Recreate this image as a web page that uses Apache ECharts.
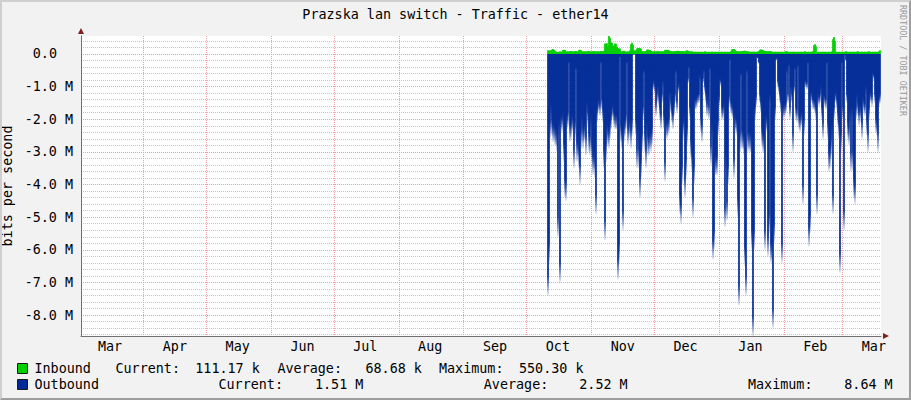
<!DOCTYPE html>
<html>
<head>
<meta charset="utf-8">
<script src="https://cdn.jsdelivr.net/npm/echarts@6.0.0/dist/echarts.min.js"></script>
<style>
  html, body { margin: 0; padding: 0; background: #F2F2F2; }
  #wrap { position: relative; width: 911px; height: 400px; }
  #chart { position: absolute; left: 0; top: 0; width: 911px; height: 400px; }
  #frame { position: absolute; left: 0; top: 0; width: 911px; height: 400px; box-sizing: border-box;
           border-top: 2px solid #CFCFCF; border-left: 2px solid #CFCFCF;
           border-right: 2px solid #9E9E9E; border-bottom: 2px solid #9E9E9E; pointer-events: none; }
</style>
</head>
<body>
<div id="wrap"><div id="chart"></div><div id="frame"></div></div>
<script>
// ---------------- data ----------------
const TITLE = 'Prazska lan switch - Traffic - ether14';
const Y_AXIS_NAME = 'bits per second';
const WATERMARK = 'RRDTOOL / TOBI OETIKER';

// time window of the graph (local time)
const X_MIN = +new Date(2013, 2, 2, 3, 20);
const X_MAX = +new Date(2014, 2, 19, 9, 35);
// first sample and sample spacing (one sample per pixel column, ~11.47 h)
const DATA_START = +new Date(2013, 9, 11, 6, 40);
const STEP_MS = 41284000;

// month boundaries (major vertical grid)
const MONTH_STARTS = ['2013-04-01','2013-05-01','2013-06-01','2013-07-01','2013-08-01','2013-09-01',
                      '2013-10-01','2013-11-01','2013-12-01','2014-01-01','2014-02-01','2014-03-01'];
// month labels (centred mid-month)
const X_LABEL_DATES = ['2013-03-16','2013-04-16','2013-05-16','2013-06-16','2013-07-16','2013-08-16',
                       '2013-09-16','2013-10-16','2013-11-16','2013-12-16','2014-01-16','2014-02-16','2014-03-16'];
const X_LABELS = ['Mar','Apr','May','Jun','Jul','Aug','Sep','Oct','Nov','Dec','Jan','Feb','Mar'];

// y axis (values in Mbit/s)
const Y_MIN_M = -8.64;
const Y_MAX_M = 0.5503;
const Y_MAJOR_M = [0, -1, -2, -3, -4, -5, -6, -7, -8];
const Y_MINOR_STEP_M = 0.2;

// Inbound (Mbit/s, drawn upward)
const INBOUND_M = [
  0.11,0.10,0.11,0.10,
  0.14,0.15,0.13,0.09,
  0.07,0.07,0.06,0.07,0.08,0.07,0.07,
  0.12,0.13,0.12,0.08,0.07,
  0.08,0.07,0.08,0.09,0.08,0.07,0.08,0.08,0.09,0.08,0.07,
  0.12,0.13,0.11,0.08,
  0.08,0.07,0.08,0.08,0.07,0.09,0.08,0.08,0.07,0.08,0.08,0.09,0.08,0.07,0.08,0.08,0.07,0.08,0.09,0.08,0.08,0.10,
  0.32,0.31,0.33,0.24,
  0.5503,0.50,
  0.36,0.34,
  0.26,0.25,
  0.32,0.31,
  0.22,
  0.18,0.16,0.17,
  0.08,0.07,0.09,0.10,0.08,0.07,0.07,0.08,0.07,
  // Nov
  0.11,
  0.30,0.34,0.28,
  0.11,0.10,0.11,
  0.17,0.18,0.17,0.18,0.15,
  0.08,0.08,0.07,0.08,0.09,
  0.13,0.14,0.13,0.12,
  0.09,0.08,0.07,0.08,
  0.08,0.07,0.08,0.09,0.08,0.07,0.08,0.07,0.08,0.08,
  0.12,0.13,0.12,0.13,0.11,0.09,0.08,
  0.08,0.07,0.08,0.08,0.09,0.08,0.10,0.09,0.08,0.08,
  0.08,0.09,0.08,0.07,0.10,0.11,0.10,0.08,0.08,0.07,0.08,
  0.07,0.06,0.07,0.07,0.06,0.07,0.07,0.06,0.07,0.07,0.06,0.07,0.08,0.07,0.06,0.07,0.07,0.06,0.07,0.07,
  // late Dec / Jan
  0.07,0.06,0.07,0.07,0.06,0.07,0.07,0.06,0.07,0.07,0.06,0.07,0.07,0.06,0.07,0.07,0.06,0.07,0.08,
  0.14,0.15,0.15,0.12,
  0.08,0.09,0.08,0.08,0.07,0.08,0.09,0.08,0.10,
  0.10,0.09,0.08,0.08,0.07,0.07,0.06,0.07,0.07,
  0.07,0.07,0.06,0.07,0.08,0.08,
  0.13,0.14,0.13,0.12,0.10,
  0.08,0.09,0.08,0.08,0.09,0.08,0.08,0.07,
  0.07,0.06,0.07,0.07,0.06,0.07,0.07,0.06,0.07,0.07,0.06,0.07,0.07,0.08,0.08,0.07,0.06,0.07,0.07,0.06,0.07,0.07,0.06,
  // Feb / Mar
  0.07,0.06,0.07,0.07,0.06,0.07,0.07,0.06,0.07,0.08,0.07,0.06,0.07,0.07,0.06,0.07,0.07,0.08,
  0.27,0.30,0.24,
  0.07,0.06,0.07,0.07,0.06,0.07,0.07,0.06,0.07,0.07,0.06,0.07,0.07,0.06,0.07,0.08,
  0.45,0.52,0.40,
  0.07,0.07,0.06,0.07,0.07,
  0.06,0.07,0.07,0.06,0.07,
  0.08,0.07,0.07,0.06,0.07,
  0.07,0.06,0.07,0.07,0.06,
  0.07,0.07,0.08,0.07,0.06,
  0.07,0.07,0.06,0.07,0.07,
  0.06,0.07,0.07,0.08,0.07,
  0.06,0.07,0.07,0.06,0.07,
  0.07,0.06,0.07,0.08,0.11
];

// Outbound (Mbit/s, drawn downward)
const OUTBOUND_M = [
  7.4,6.4,2.6,1.9,2.5,2.7,2.6,2.8,2.8,3.0,
  5.6,2.5,7.0,2.3,2.4,2.2,3.3,4.4,4.5,2.3,
  2.2,0.3,2.7,2.6,2.3,2.4,3.5,2.6,0.5,3.3,
  3.1,3.5,4.0,2.9,2.3,2.9,2.7,2.6,3.1,1.8,
  2.2,3.0,3.1,2.3,3.3,3.7,3.5,3.8,4.9,2.1,
  1.8,1.7,1.9,0.3,1.7,2.1,3.5,5.7,3.3,2.6,
  2.8,2.9,2.6,2.3,2.0,1.9,2.2,2.3,2.3,2.3,
  6.9,6.4,0.1,2.7,2.9,5.4,2.7,2.5,2.3,0.3,
  2.8,2.6,
  // Nov
  2.4,2.9,2.5,0.02,0.02,0.02,2.5,3.5,2.8,3.5,
  4.4,3.8,3.0,2.0,0.6,3.0,3.5,2.6,3.1,3.1,
  2.9,3.0,2.8,1.1,0.95,1.2,1.9,1.5,1.2,1.6,
  2.0,2.3,1.5,1.0,2.3,3.9,2.5,2.6,2.5,2.4,
  1.4,1.8,2.1,2.3,1.9,1.5,0.6,1.8,1.2,1.1,
  4.9,5.2,4.0,2.6,2.3,4.4,3.8,2.8,0.9,0.45,
  2.0,3.2,3.6,5.0,4.0,1.7,1.7,1.6,1.5,1.5,
  0.8,2.4,2.7,0.9,0.6,1.2,1.5,1.9,1.6,2.0,
  0.5,3.4,2.6,
  // late Dec / Jan
  6.3,6.0,3.7,3.7,3.7,2.5,1.6,0.9,1.0,2.0,
  2.0,1.8,5.3,3.6,5.1,4.0,1.6,0.2,1.8,1.9,
  2.0,3.8,2.3,2.4,2.5,5.0,7.7,3.0,0.7,2.9,
  2.9,3.1,6.5,7.4,0.6,3.0,2.9,3.0,3.0,6.0,
  8.64,6.0,2.0,1.6,0.1,0.15,0.3,1.5,1.8,2.8,
  3.0,3.0,6.0,2.3,2.4,6.2,5.5,1.5,6.4,6.3,
  8.4,5.8,2.0,0.2,0.15,1.0,1.2,1.5,1.8,6.4,
  2.0,1.9,1.9,1.8,0.6,1.5,0.4,2.0,1.2,1.5,
  3.0,1.2,0.5,
  // Feb / Mar
  2.0,2.1,0.4,2.3,2.4,2.2,2.2,4.6,2.5,1.0,
  1.0,1.1,0.3,5.9,5.5,1.4,1.5,1.7,1.7,1.8,
  2.0,4.9,1.5,1.6,1.5,1.2,2.0,2.6,1.5,1.6,
  1.7,0.3,2.6,3.6,3.5,3.2,2.6,4.9,2.0,1.5,
  1.4,1.7,2.2,2.6,6.7,3.0,0.3,2.0,5.4,0.05,
  0.2,1.5,2.6,2.8,2.1,3.6,2.0,3.6,4.4,4.6,
  2.0,1.5,1.9,2.2,1.9,2.1,2.6,1.6,1.8,1.9,
  1.2,2.5,3.0,2.0,1.5,1.4,1.6,0.7,0.8,1.5,
  2.4,2.5,3.0,1.6,1.51
];

// legend statistics
const IN_STATS  = { current: '111.17 k', average: '68.68 k', maximum: '550.30 k' };
const OUT_STATS = { current: '1.51 M',   average: '2.52 M',  maximum: '8.64 M' };

// ---------------- build ----------------
const FONT = 'DejaVu Sans Mono';
const FS = 13.4;
const IN_COLOR = '#00CF00';
const OUT_COLOR = '#002A97';
const GRID_MINOR = '#C6C6C6';
const GRID_MAJOR = '#EE9C9C';
const AXIS_COLOR = '#707070';
const ARROW_COLOR = '#801F1F';

function parseDay(s) { const p = s.split('-').map(Number); return +new Date(p[0], p[1] - 1, p[2]); }
const monthTs = MONTH_STARTS.map(parseDay);
const labelTs = X_LABEL_DATES.map(parseDay);

const yMajor = Y_MAJOR_M.map(v => v * 1e6);
const yMinor = [];
for (let k = Math.ceil(Y_MIN_M / Y_MINOR_STEP_M); k <= Math.floor(Y_MAX_M / Y_MINOR_STEP_M); k++) {
  if (k % 5 !== 0) yMinor.push(Math.round(k * Y_MINOR_STEP_M * 10) / 10 * 1e6);
}

function outGradient(v) {
  const f = Math.max(0.8, 1 - 0.6 / v);
  return { type: 'linear', x: 0, y: 0, x2: 0, y2: 1,
    colorStops: [ { offset: 0, color: OUT_COLOR }, { offset: f, color: OUT_COLOR },
                  { offset: 1, color: 'rgba(0,42,151,0.1)' } ] };
}

const inData = INBOUND_M.map((v, i) => [DATA_START + i * STEP_MS, v * 1e6]);
const outData = OUTBOUND_M.map((v, i) => ({
  value: [DATA_START + i * STEP_MS, -v * 1e6],
  itemStyle: { color: outGradient(v) }
}));

function txt(text, x, y, extra) {
  return Object.assign({ type: 'text', x: x, y: y, silent: true,
    style: { text: text, fontFamily: FONT, fontSize: FS, fill: '#000', align: 'left', verticalAlign: 'middle' } }, extra || {});
}

const legendBase = {
  left: 17, icon: 'rect', itemWidth: 10, itemHeight: 10, padding: 0, selectedMode: false,
  textStyle: { fontFamily: FONT, fontSize: FS, color: '#000', padding: [0, 0, 0, 2] }
};

function monthLabel(v) {
  let best = 0;
  for (let i = 1; i < labelTs.length; i++) if (Math.abs(labelTs[i] - v) < Math.abs(labelTs[best] - v)) best = i;
  return X_LABELS[best];
}

const chart = echarts.init(document.getElementById('chart'), null, { renderer: 'svg' });
chart.setOption({
  animation: false,
  backgroundColor: '#F2F2F2',
  textStyle: { fontFamily: FONT },
  title: { text: TITLE, left: 'center', top: 3,
    textStyle: { fontFamily: FONT, fontSize: FS, fontWeight: 'normal', color: '#000' } },
  grid: { left: 81, top: 36, width: 800, height: 300, show: true, backgroundColor: '#FFFFFF', borderWidth: 0,
          containLabel: false, outerBoundsMode: 'none' },
  legend: [
    Object.assign({}, legendBase, { top: 362,
      data: [{ name: 'Inbound', itemStyle: { color: IN_COLOR, borderColor: '#1A1A1A', borderWidth: 1 } }] }),
    Object.assign({}, legendBase, { top: 378,
      data: [{ name: 'Outbound', itemStyle: { color: OUT_COLOR, borderColor: '#1A1A1A', borderWidth: 1 } }] })
  ],
  xAxis: [
    { type: 'value', min: X_MIN, max: X_MAX, position: 'bottom', scale: true,
      axisLine: { show: true, onZero: false, lineStyle: { color: ARROW_COLOR, width: 0 },
                  symbol: ['none', 'triangle'], symbolSize: [6, 6], symbolOffset: [0, 5] },
      axisTick: { show: false, customValues: monthTs },
      axisLabel: { show: false },
      splitLine: { show: true, lineStyle: { color: GRID_MAJOR, width: 1, type: [1, 1] } } },
    { type: 'value', min: X_MIN, max: X_MAX, position: 'bottom', scale: true,
      axisLine: { show: true, onZero: false, lineStyle: { color: AXIS_COLOR, width: 1 } },
      axisTick: { show: false, customValues: labelTs },
      axisLabel: { show: true, customValues: labelTs, margin: 4, color: '#000', fontFamily: FONT, fontSize: FS,
        hideOverlap: false, formatter: monthLabel },
      splitLine: { show: false } }
  ],
  yAxis: [
    { type: 'value', min: Y_MIN_M * 1e6, max: Y_MAX_M * 1e6, position: 'left',
      axisLine: { show: true, onZero: false, lineStyle: { color: ARROW_COLOR, width: 0 },
                  symbol: ['none', 'triangle'], symbolSize: [6, 6], symbolOffset: [0, 5] },
      axisTick: { show: false, customValues: yMinor },
      axisLabel: { show: false },
      splitLine: { show: true, lineStyle: { color: GRID_MINOR, width: 1, type: [1, 1] } } },
    { type: 'value', min: Y_MIN_M * 1e6, max: Y_MAX_M * 1e6, position: 'left',
      name: Y_AXIS_NAME, nameLocation: 'middle', nameGap: 59, nameRotate: 90,
      nameTextStyle: { fontFamily: FONT, fontSize: FS, color: '#000' },
      axisLine: { show: true, onZero: false, lineStyle: { color: AXIS_COLOR, width: 1 } },
      axisTick: { show: false, customValues: yMajor },
      axisLabel: { show: true, customValues: yMajor, margin: 8, color: '#000', fontFamily: FONT, fontSize: FS,
        formatter: function (v) {
          if (Math.abs(v) < 1) return '{z|0.0}';
          return (v / 1e6).toFixed(1) + ' M';
        },
        rich: { z: { fontFamily: FONT, fontSize: FS, color: '#000', padding: [0, 16, 0, 0] } } },
      splitLine: { show: true, lineStyle: { color: GRID_MAJOR, width: 1, type: [1, 1] } } }
  ],
  series: [
    { name: 'Inbound', type: 'bar', xAxisIndex: 0, yAxisIndex: 1, data: inData,
      barWidth: 1.7, barGap: '-100%', itemStyle: { color: IN_COLOR }, emphasis: { disabled: true }, silent: true },
    { name: 'Outbound', type: 'bar', xAxisIndex: 0, yAxisIndex: 1, data: outData,
      barWidth: 1.7, barGap: '-100%', itemStyle: { color: OUT_COLOR }, emphasis: { disabled: true }, silent: true }
  ],
  graphic: [
    txt('Current:', 115.5, 368), txt(IN_STATS.current, 195.3, 368),
    txt('Average:', 277.5, 368), txt(IN_STATS.average, 365.5, 368),
    txt('Maximum:', 439, 368),   txt(IN_STATS.maximum, 519, 368),
    txt('Current:', 218.5, 384), txt(OUT_STATS.current, 315, 384),
    txt('Average:', 483.8, 384), txt(OUT_STATS.average, 579.3, 384),
    txt('Maximum:', 748, 384),   txt(OUT_STATS.maximum, 844.3, 384),
    { type: 'text', x: 902.7, y: 60.5, rotation: -Math.PI / 2, silent: true,
      style: { text: WATERMARK, fontFamily: FONT, fontSize: 8.4, fill: '#9A9A9A', align: 'center', verticalAlign: 'middle' } }
  ]
});
</script>
</body>
</html>
